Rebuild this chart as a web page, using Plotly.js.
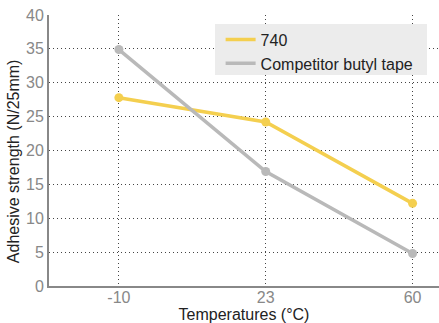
<!DOCTYPE html>
<html><head><meta charset="utf-8">
<script src="https://cdn.plot.ly/plotly-3.0.1.min.js"></script>
<style>html,body{margin:0;padding:0;background:#fff}#c{width:439px;height:323px}</style>
</head><body><div id="c"></div>
<script>
const temps = ['-10', '23', '60'];
const s740 = [27.8, 24.2, 12.2];
const competitor = [34.9, 16.9, 4.8];
const seriesNames = ['740', 'Competitor butyl tape'];
const seriesColors = ['#f4cf4f', '#b9b9b9'];
const yTicks = [0, 5, 10, 15, 20, 25, 30, 35, 40];
const yTitle = 'Adhesive strength (N/25mm)';
const xTitle = 'Temperatures (°C)';

const font = 'Liberation Sans, Arial, Helvetica, sans-serif';
const seriesVals = [s740, competitor];
const data = [];
seriesVals.forEach((vals, i) => {
  data.push({x: temps, y: vals, name: seriesNames[i], type: 'scatter', mode: 'lines',
    line: {color: seriesColors[i], width: 3.5}});
});
seriesVals.forEach((vals, i) => {
  data.push({x: temps, y: vals, name: seriesNames[i], type: 'scatter', mode: 'markers',
    showlegend: false, marker: {color: seriesColors[i], size: 9}});
});
const layout = {
  width: 439, height: 323,
  margin: {l: 49, r: 0, t: 15, b: 37},
  paper_bgcolor: '#fff', plot_bgcolor: '#fff',
  font: {family: font, color: '#333'},
  showlegend: true,
  legend: {x: 0.440, y: 0.972, xanchor: 'left', yanchor: 'top', bgcolor: 'rgba(0,0,0,0)',
    font: {size: 16, color: '#222', family: font}, traceorder: 'normal', itemwidth: 30},
  shapes: [{type: 'rect', xref: 'paper', yref: 'paper', x0: 0.4256, x1: 0.9692, y0: 0.7786, y1: 0.9668,
    fillcolor: '#ececec', line: {width: 0}, layer: 'above'}],
  annotations: [{text: yTitle, xref: 'paper', yref: 'paper', x: -0.092, y: 0.461,
    xanchor: 'center', yanchor: 'middle', textangle: -90, showarrow: false,
    font: {size: 16, color: '#222', family: font}}],
  xaxis: {type: 'category', range: [-0.476, 2.18], showgrid: true, gridcolor: '#444',
    griddash: '1px,3px', gridwidth: 1, showline: true, linecolor: '#888', linewidth: 2,
    ticks: '', zeroline: false, tickfont: {size: 16, color: '#888', family: font},
    ticklabelstandoff: -4,
    title: {text: xTitle, font: {size: 16, color: '#222', family: font}, standoff: 0},
    automargin: false},
  yaxis: {range: [0, 40], tickvals: yTicks, showgrid: true, gridcolor: '#444',
    griddash: '1px,3px', gridwidth: 1, showline: true, linecolor: '#888', linewidth: 2,
    ticks: '', zeroline: false, tickfont: {size: 16, color: '#888', family: font},
    automargin: false}
};
Plotly.newPlot('c', data, layout, {displayModeBar: false, staticPlot: true});
</script></body></html>
